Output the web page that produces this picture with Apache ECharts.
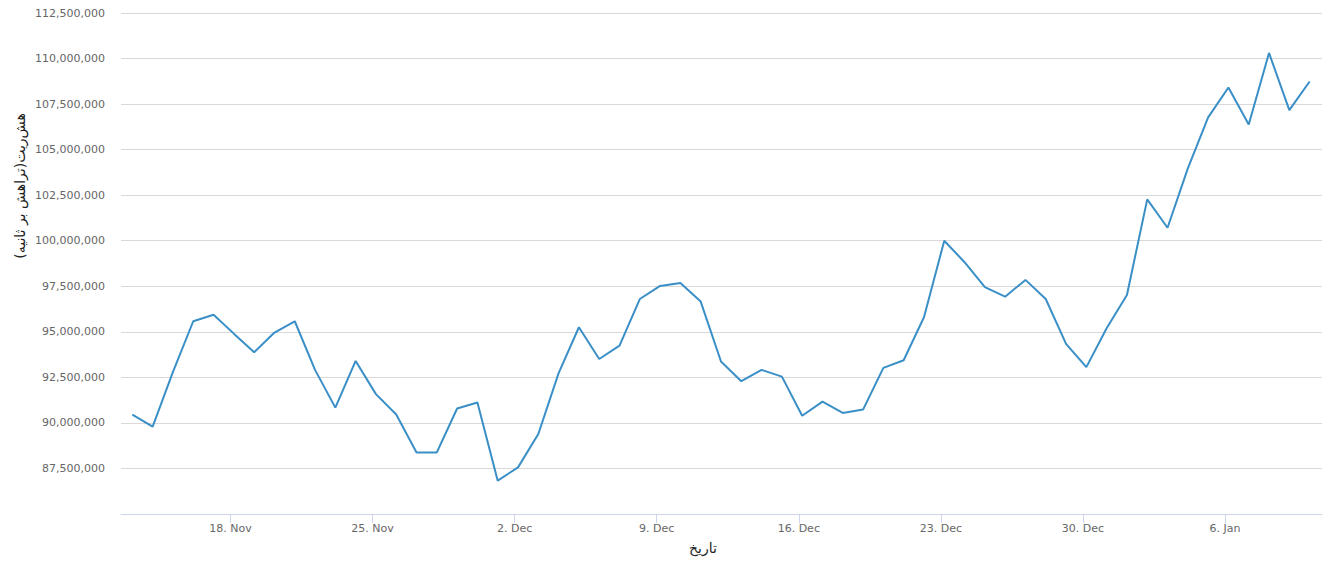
<!DOCTYPE html>
<html>
<head>
<meta charset="utf-8">
<script src="https://cdn.jsdelivr.net/npm/echarts@6/dist/echarts.min.js"></script>
<style>
html,body{margin:0;padding:0;background:#fff;}
#chart{width:1333px;height:563px;}
</style>
</head>
<body>
<div id="chart"></div>
<script>
// ---- data ----
const startDate = '2019-11-13T04:00:00Z';   // first daily observation
const hashrate = [
  90.46, 89.80, 92.80, 95.58, 95.94, 94.90, 93.88, 94.96, 95.58, 92.91,
  90.84, 93.40, 91.58, 90.46, 88.38, 88.38, 90.79, 91.12, 86.83, 87.56,
  89.39, 92.73, 95.25, 93.51, 94.24, 96.80, 97.52, 97.68, 96.66, 93.37,
  92.29, 92.91, 92.54, 90.39, 91.17, 90.55, 90.73, 93.02, 93.44, 95.80,
  100.00, 98.82, 97.45, 96.93, 97.85, 96.80, 94.34, 93.06, 95.20, 97.02,
  102.27, 100.71, 103.97, 106.77, 108.41, 106.38, 110.31, 107.17, 108.74
]; // millions
const xTickDates = ['2019-11-18','2019-11-25','2019-12-02','2019-12-09','2019-12-16','2019-12-23','2019-12-30','2020-01-06'];
const monthNames = ['Jan','Feb','Mar','Apr','May','Jun','Jul','Aug','Sep','Oct','Nov','Dec'];
const yTitle = 'هش‌ریت(تراهش بر ثانیه)';
const xTitle = 'تاریخ';

// ---- build ----
const DAY = 86400000;
const t0 = Date.parse(startDate);
const seriesData = hashrate.map((v, i) => [t0 + i * DAY, v * 1e6]);
const tickValues = xTickDates.map(s => Date.parse(s + 'T00:00:00Z'));
const xMin = t0 - 0.56 * DAY;
const xMax = t0 + (hashrate.length - 1) * DAY + 0.61 * DAY;

const chart = echarts.init(document.getElementById('chart'), null, { renderer: 'svg' });
const font = 'DejaVu Sans, Verdana, sans-serif';
chart.setOption({
  animation: false,
  backgroundColor: '#ffffff',
  grid: { left: 121, right: 11, top: 13, bottom: 49, containLabel: false },
  xAxis: {
    type: 'value',
    min: xMin,
    max: xMax,
    axisLine: { show: true, lineStyle: { color: '#ccd6eb', width: 1 } },
    axisTick: { show: true, length: 9, lineStyle: { color: '#ccd6eb' }, customValues: tickValues },
    splitLine: { show: false },
    axisLabel: {
      customValues: tickValues,
      color: '#666666', fontSize: 11, fontFamily: font, margin: 9,
      formatter: function (v) {
        const d = new Date(v);
        return d.getUTCDate() + '. ' + monthNames[d.getUTCMonth()];
      }
    }
  },
  yAxis: {
    type: 'value',
    min: 85000000,
    max: 112500000,
    interval: 2500000,
    axisLine: { show: false },
    axisTick: { show: false },
    splitLine: { show: true, lineStyle: { color: '#d9d9d9', width: 1 } },
    axisLabel: {
      showMinLabel: false,
      color: '#666666', fontSize: 11, fontFamily: font, margin: 16,
      formatter: function (v) { return Math.round(v).toLocaleString('en-US'); }
    }
  },
  graphic: [
    {
      type: 'text', x: 20, y: 186, rotation: Math.PI / 2,
      style: { text: yTitle, textAlign: 'center', textVerticalAlign: 'middle',
               font: '14px ' + font, fill: '#222222' }
    },
    {
      type: 'text', x: 703, y: 548,
      style: { text: xTitle, textAlign: 'center', textVerticalAlign: 'middle',
               font: '14px ' + font, fill: '#222222' }
    }
  ],
  series: [{
    type: 'line',
    data: seriesData,
    symbol: 'none',
    lineStyle: { color: '#3a8fc6', width: 2 },
    itemStyle: { color: '#3a8fc6' }
  }]
});
</script>
</body>
</html>
